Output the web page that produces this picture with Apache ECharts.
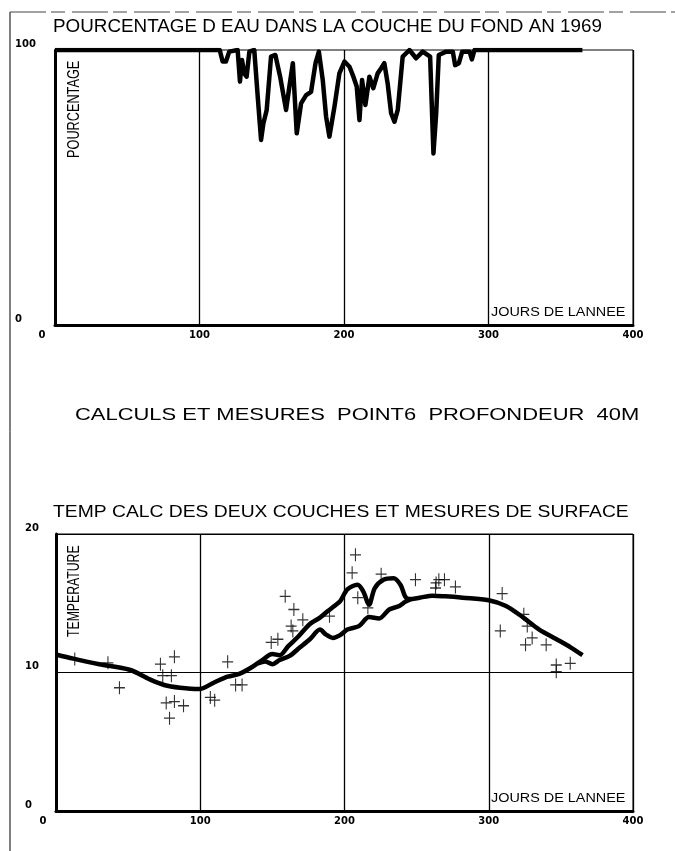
<!DOCTYPE html>
<html>
<head>
<meta charset="utf-8">
<script src="https://cdn.jsdelivr.net/npm/echarts@6/dist/echarts.min.js"></script>
<style>html,body{margin:0;padding:0;background:#fff}#c{width:675px;height:851px}</style>
</head>
<body>
<div id="c"></div>
<script>
// ---- tick labels / axis ranges ----
const xTicks = [0, 100, 200, 300, 400];
const yTicksTop = [0, 100];
const yTicksBottom = [0, 10, 20];

// ---- top chart: percentage of water in bottom layer ----
const pctDays = [0, 114, 116, 118.3, 120.6, 126.4, 128, 129.4, 131, 132.6, 134.5, 137.9, 140.3, 142.6, 144.2, 146.5, 149.5, 152.5, 155.8, 159.9, 162.2, 164.6, 167.3, 170.3, 173.8, 177.2, 180.3, 182.6, 185.3, 187.6, 189.9, 193.4, 196.8, 200.3, 203.8, 206.5, 208.8, 210.7, 212.5, 214.8, 217.6, 220.3, 223.3, 225.6, 227.9, 230.2, 232.6, 234.9, 237.2, 240.6, 245.3, 249.9, 254.5, 259.6, 261.9, 263.8, 265.6, 270.7, 275.3, 276.9, 279.5, 281.8, 286.9, 288.5, 290.3, 365];
const pctValues = [100, 100, 95.8, 95.8, 99.4, 100, 88.5, 96.4, 91.5, 90.3, 99.4, 100, 83, 67.3, 73.3, 78.2, 97.6, 98.2, 90.3, 78.2, 86.7, 95.2, 69.7, 80.6, 83.6, 84.8, 95.2, 99.4, 89.1, 75.8, 68.5, 79.4, 91.5, 95.8, 93.9, 90.3, 86.7, 74.5, 89.1, 80, 90.3, 86.1, 91.5, 93.3, 95.2, 87.9, 77, 73.9, 78.2, 97.6, 100, 97, 99.4, 97.6, 62.4, 77, 98.2, 99.4, 99.4, 94.5, 95.2, 99.4, 99.4, 96.6, 100, 100];

// ---- bottom chart: computed temperatures of the two layers ----
const surfDays = [0, 12, 30, 51, 65, 75, 86, 99, 110, 119, 127, 136, 143, 150, 155, 161, 168, 176, 183, 188, 193, 197, 202, 209, 213, 217, 221, 227, 234, 239, 242, 245, 252, 261, 270, 282, 300, 312, 324, 335, 347, 357, 365];
const surfTemps = [11.3, 11.0, 10.6, 10.2, 9.5, 9.1, 8.9, 8.8, 9.3, 9.7, 9.9, 10.4, 10.9, 11.33, 11.25, 11.9, 12.6, 13.5, 13.96, 14.4, 14.8, 15.15, 16.0, 16.34, 15.86, 14.9, 16.1, 16.7, 16.8, 16.3, 15.5, 15.3, 15.4, 15.55, 15.5, 15.4, 15.22, 14.8, 13.96, 13.1, 12.4, 11.8, 11.25];
const deepDays = [140, 145, 150, 155, 162, 169, 176, 183, 187, 192, 197, 202, 210, 217, 224, 231, 238, 242, 246];
const deepTemps = [10.65, 10.8, 10.6, 10.9, 11.2, 11.8, 12.4, 13.1, 12.75, 12.5, 12.7, 13.1, 13.35, 14.0, 13.9, 14.55, 14.8, 15.1, 15.3];

// ---- surface measurements (crosses) ----
const measDays = [13, 36, 44, 72.4, 82.1, 74, 80, 76.4, 82.1, 88.4, 78.7, 107, 110, 119, 124.5, 129, 149.2, 153.8, 158.9, 164.9, 171.1, 163, 164.2, 189.6, 205.3, 207.6, 209.2, 216.2, 225.4, 249.2, 263.5, 265.4, 269.3, 263.1, 276.9, 309.3, 308, 324.3, 326.7, 330.1, 325.5, 339.8, 346.8, 356.5, 346.8];
const measTemps = [10.97, 10.7, 8.9, 10.6, 11.13, 9.77, 9.77, 7.8, 7.9, 7.6, 6.7, 8.2, 8.0, 10.77, 9.1, 9.1, 12.17, 12.4, 15.5, 14.55, 13.8, 13.35, 13.0, 14.07, 17.2, 18.5, 15.4, 14.67, 17.1, 16.7, 16.47, 16.7, 16.7, 16.1, 16.18, 15.7, 13.0, 14.2, 13.35, 12.5, 12.0, 12.0, 10.54, 10.66, 10.06];

const zip = (a, b) => a.map((v, i) => [v, b[i]]);
const lblFont = { fontFamily: 'DejaVu Sans', fontSize: 10, fontWeight: 'bold', color: '#000' };
const plus = 'path://M-1,-10 L1,-10 L1,-1 L10,-1 L10,1 L1,1 L1,10 L-1,10 L-1,1 L-10,1 L-10,-1 L-1,-1 Z';

function xAxisCfg(gi) {
  return {
    type: 'value', gridIndex: gi, min: xTicks[0], max: xTicks[xTicks.length - 1],
    interval: xTicks[1] - xTicks[0],
    axisLine: { show: true, onZero: false, lineStyle: { color: '#000', width: 3 } },
    axisTick: { show: false },
    axisLabel: Object.assign({
      margin: 5,
      formatter: v => (v === xTicks[0] ? '{z|' + v + '}' : String(v)),
      rich: { z: { fontFamily: 'DejaVu Sans', fontSize: 10, fontWeight: 'bold', color: '#000', padding: [0, 26, 0, 0] } }
    }, lblFont),
    splitLine: { show: true, lineStyle: { color: '#000', width: 1.3 } }
  };
}
function yAxisCfg(gi, ticks, margin, showSplit) {
  return {
    type: 'value', gridIndex: gi, min: ticks[0], max: ticks[ticks.length - 1],
    interval: ticks[1] - ticks[0],
    axisLine: { show: true, lineStyle: { color: '#000', width: 3 } },
    axisTick: { show: false },
    axisLabel: Object.assign({ margin: margin, align: 'left', verticalAlign: 'bottom', lineHeight: 12 }, lblFont),
    splitLine: { show: showSplit, lineStyle: { color: '#000', width: 1 } }
  };
}

function txt(text, x, y, size, sx, extra) {
  return Object.assign({
    type: 'text', x: x, y: y, scaleX: sx, silent: true,
    style: { text: text, fontFamily: 'Liberation Sans', fontSize: size, fill: '#000', align: 'left', verticalAlign: 'middle' }
  }, extra || {});
}

const chart = echarts.init(document.getElementById('c'), null, { renderer: 'canvas' });
chart.setOption({
  animation: false,
  backgroundColor: '#fff',
  grid: [
    { left: 55, right: 42, top: 50, height: 275, show: true, borderColor: '#000', borderWidth: 1 },
    { left: 56, right: 42, top: 534, height: 277, show: true, borderColor: '#000', borderWidth: 1 }
  ],
  xAxis: [xAxisCfg(0), xAxisCfg(1)],
  yAxis: [yAxisCfg(0, yTicksTop, 40, false), yAxisCfg(1, yTicksBottom, 31, true)],
  series: [
    { type: 'line', xAxisIndex: 0, yAxisIndex: 0, data: zip(pctDays, pctValues), showSymbol: false,
      lineStyle: { color: '#000', width: 4.5, join: 'round' } },
    { type: 'line', xAxisIndex: 1, yAxisIndex: 1, data: zip(surfDays, surfTemps), showSymbol: false, smooth: 0.3,
      lineStyle: { color: '#000', width: 4.5, join: 'round' } },
    { type: 'line', xAxisIndex: 1, yAxisIndex: 1, data: zip(deepDays, deepTemps), showSymbol: false, smooth: 0.3,
      lineStyle: { color: '#000', width: 4.5, join: 'round' } },
    { type: 'scatter', xAxisIndex: 1, yAxisIndex: 1, data: zip(measDays, measTemps),
      symbol: plus, symbolSize: [11, 13], itemStyle: { color: '#000' } }
  ],
  graphic: [
    { type: 'line', silent: true, shape: { x1: 10, y1: 12, x2: 10, y2: 851 }, style: { stroke: '#000', lineWidth: 1 } },
    { type: 'line', silent: true, shape: { x1: 10, y1: 12, x2: 675, y2: 12 }, style: { stroke: '#444', lineWidth: 1, lineDash: [36, 5, 14, 7] } },
    txt('POURCENTAGE D EAU DANS LA COUCHE DU FOND AN 1969', 53, 27, 18, 1.046),
    txt('CALCULS ET MESURES  POINT6  PROFONDEUR  40M', 75, 415, 17, 1.29),
    txt('TEMP CALC DES DEUX COUCHES ET MESURES DE SURFACE', 53, 512, 17, 1.135),
    txt('JOURS DE LANNEE', 491, 313, 12, 1.2),
    txt('JOURS DE LANNEE', 491, 799, 12, 1.2),
    txt('POURCENTAGE', 74, 158, 12, 1.06, { rotation: Math.PI / 2, scaleY: 1.4 }),
    txt('TEMPERATURE', 74, 637, 12, 1.02, { rotation: Math.PI / 2, scaleY: 1.4 })
  ]
});
</script>
</body>
</html>
